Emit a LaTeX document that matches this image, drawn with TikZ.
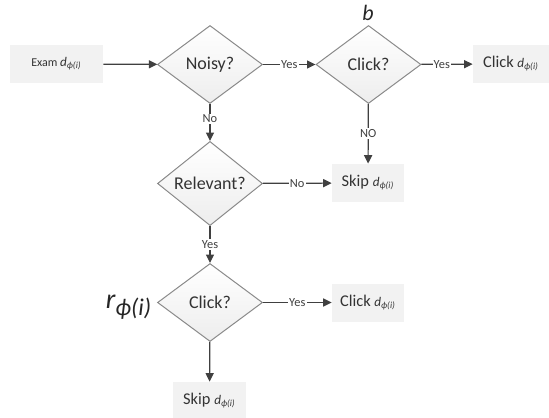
\documentclass[tikz,border=0pt]{standalone}
\usepackage{fontspec}
\setmainfont{Carlito}
\usetikzlibrary{shapes.geometric,arrows.meta}
\definecolor{arrowc}{HTML}{404040}
\definecolor{boxc}{HTML}{F2F2F2}
\definecolor{dborder}{HTML}{8A8A8A}
\newcommand{\dsub}{{\fontsize{6.6}{7}\selectfont\itshape d\textsubscript{ϕ(i)}}}
\begin{document}
\begin{tikzpicture}[x=0.5pt,y=-0.5pt,
  dec/.style={diamond,draw=dborder,line width=0.5pt,top color=white,bottom color=gray!14,
    minimum width=52.5pt,minimum height=39pt,inner sep=0pt,font=\fontsize{9}{10}\selectfont,text=black!80},
  actbox/.style={fill=boxc,minimum height=19pt,inner sep=0pt,font=\fontsize{8.2}{9}\selectfont,text=black!80},
  conn/.style={draw=arrowc,line width=0.6pt,-{Triangle[length=4.2pt,width=4pt]}},
  lab/.style={fill=white,inner sep=0.6pt,font=\fontsize{6.2}{6}\selectfont,text=black!75}]
\useasboundingbox (0,0) rectangle (549,417);
\node[actbox,minimum width=46.5pt,font=\fontsize{6}{7}\selectfont] (exam) at (56.5,64) {Exam \dsub};
\node[dec] (noisy) at (210,64.5) {Noisy?};
\node[dec] (click1) at (368.5,64.5) {Click?};
\node[actbox,minimum width=38pt] (cbox1) at (511,64) {Click \dsub};
\node[dec] (rel) at (210,183.5) {Relevant?};
\node[actbox,minimum width=36pt] (skip1) at (368,183) {Skip \dsub};
\node[dec] (click2) at (210,302.5) {Click?};
\node[actbox,minimum width=36pt] (cbox2) at (368,302.5) {Click \dsub};
\node[actbox,minimum width=36.5pt] (skip2) at (209.5,401) {Skip \dsub};
\node[font=\fontsize{11}{12}\selectfont\itshape,text=black!85] (blab) at (368,13) {b};
\node[text=black!85] (rlab) at (129,307) {\fontsize{14}{14}\selectfont\itshape r\textsubscript{\fontsize{12}{12}\selectfont ϕ(i)}};
\draw[conn] (exam) -- (noisy);
\draw[conn] (noisy) -- node[lab,pos=0.5]{Yes} (click1);
\draw[conn] (click1) -- node[lab,pos=0.4]{Yes} (cbox1);
\draw[conn] (noisy) -- node[lab,pos=0.4]{No} (rel);
\draw[conn] (click1) -- node[lab,pos=0.5]{NO} (skip1);
\draw[conn] (rel) -- node[lab,pos=0.5]{No} (skip1);
\draw[conn] (rel) -- node[lab,pos=0.5]{Yes} (click2);
\draw[conn] (click2) -- node[lab,pos=0.5]{Yes} (cbox2);
\draw[conn] (click2) -- (skip2);
\end{tikzpicture}
\end{document}
